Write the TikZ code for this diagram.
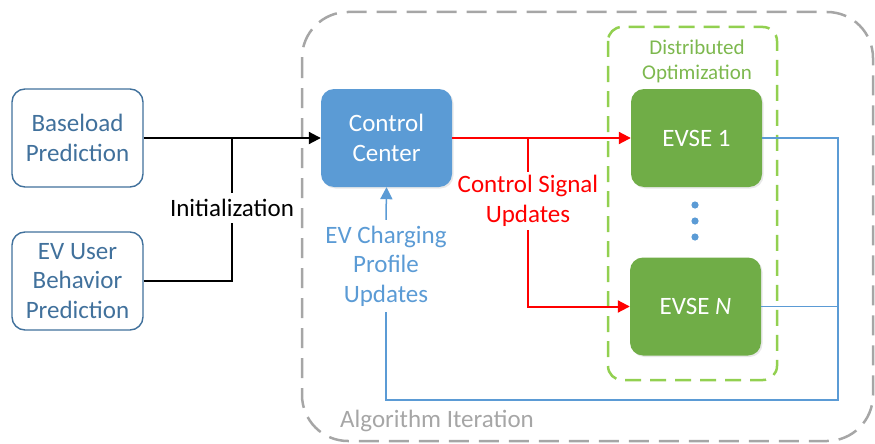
\documentclass[tikz,border=0pt]{standalone}
\usepackage{fontspec}
\setmainfont{Carlito}
\usetikzlibrary{arrows.meta,shadows}
\definecolor{predblue}{HTML}{41719C}
\definecolor{ccblue}{HTML}{5B9BD5}
\definecolor{evsegreen}{HTML}{70AD47}
\definecolor{optgreen}{HTML}{92D050}
\definecolor{optlabel}{HTML}{7DB84E}
\definecolor{itergray}{HTML}{A6A6A6}
\definecolor{sigred}{HTML}{FF0000}
\tikzset{
  txt/.style={font=\fontsize{25}{29.5}\selectfont, align=center},
  predbox/.style={txt, draw=predblue, line width=1.4pt, text=predblue, fill=white,
    rounded corners=13pt, minimum width=131pt, minimum height=98pt},
  solidbox/.style={txt, text=white, rounded corners=13pt, minimum width=131pt,
    minimum height=98pt, drop shadow={opacity=0.18, shadow xshift=1.5pt, shadow yshift=-1.5pt}},
  tip/.style={-{Triangle[length=12pt,width=12pt]}},
  initline/.style={line width=2pt, black},
  sigline/.style={line width=2pt, sigred},
  fbline/.style={line width=1.5pt, ccblue},
  lbl/.style={txt, inner sep=0pt, outer sep=0pt},
}
\begin{document}
\begin{tikzpicture}[x=1pt,y=-1pt]
\useasboundingbox (0,0) rectangle (875,444);

% iteration frame and distributed-optimization frame
\draw[itergray, line width=2.5pt, dash pattern=on 20pt off 10pt, rounded corners=46pt]
  (302,12) rectangle (873,441);
\node[txt, text=itergray, anchor=west, inner sep=0pt] (iter) at (340,421) {Algorithm Iteration};
\draw[optgreen, line width=2.5pt, dash pattern=on 16pt off 9pt, rounded corners=14pt]
  (608,27) rectangle (777,380);
\node[font=\fontsize{21}{25}\selectfont, align=center, text=optlabel] (opt) at (697,61)
  {Distributed\\Optimization};

% boxes
\node[predbox] (base) at (77.5,138) {Baseload\\Prediction};
\node[predbox] (evub) at (77.5,281) {EV User\\Behavior\\Prediction};
\node[solidbox, fill=ccblue] (cc) at (386.5,138) {Control\\Center};
\node[solidbox, fill=evsegreen] (e1) at (696.5,138) {EVSE 1};
\node[solidbox, fill=evsegreen] (eN) at (695.5,306.5) {EVSE \textit{N}};

% dots between the EVSE boxes
\foreach \yy/\nm in {205/d1,221/d2,237/d3}
  \fill[ccblue] (695,\yy) circle[radius=3.6] coordinate (\nm);

% initialization inputs
\coordinate (jinit) at (232,138);
\node[lbl, inner ysep=6pt] (init) at (232,208) {Initialization};
\draw[initline, tip] (base.east) -- (cc.west);
\draw[initline] (jinit) -- (init.north);
\draw[initline] (evub.east) -| (init.south);

% control signal updates
\coordinate (jsig) at (528,138);
\node[lbl, text=sigred, inner ysep=4pt] (csu) at (528,201) {Control Signal\\Updates};
\draw[sigline, tip] (cc.east) -- (e1.west);
\draw[sigline] (jsig) -- (csu.north);
\draw[sigline, tip] (csu.south) |- (eN.west);

% charging profile feedback
\node[lbl, text=ccblue, inner ysep=6pt] (evc) at (386,266) {EV Charging\\Profile\\Updates};
\coordinate (fb) at (838,400);
\draw[fbline, tip] (evc.north) -- (cc.south);
\draw[fbline] (e1.east) -| (fb) -| (evc.south);
\draw[fbline] (eN.east) -- (eN.east -| fb);
\end{tikzpicture}
\end{document}
